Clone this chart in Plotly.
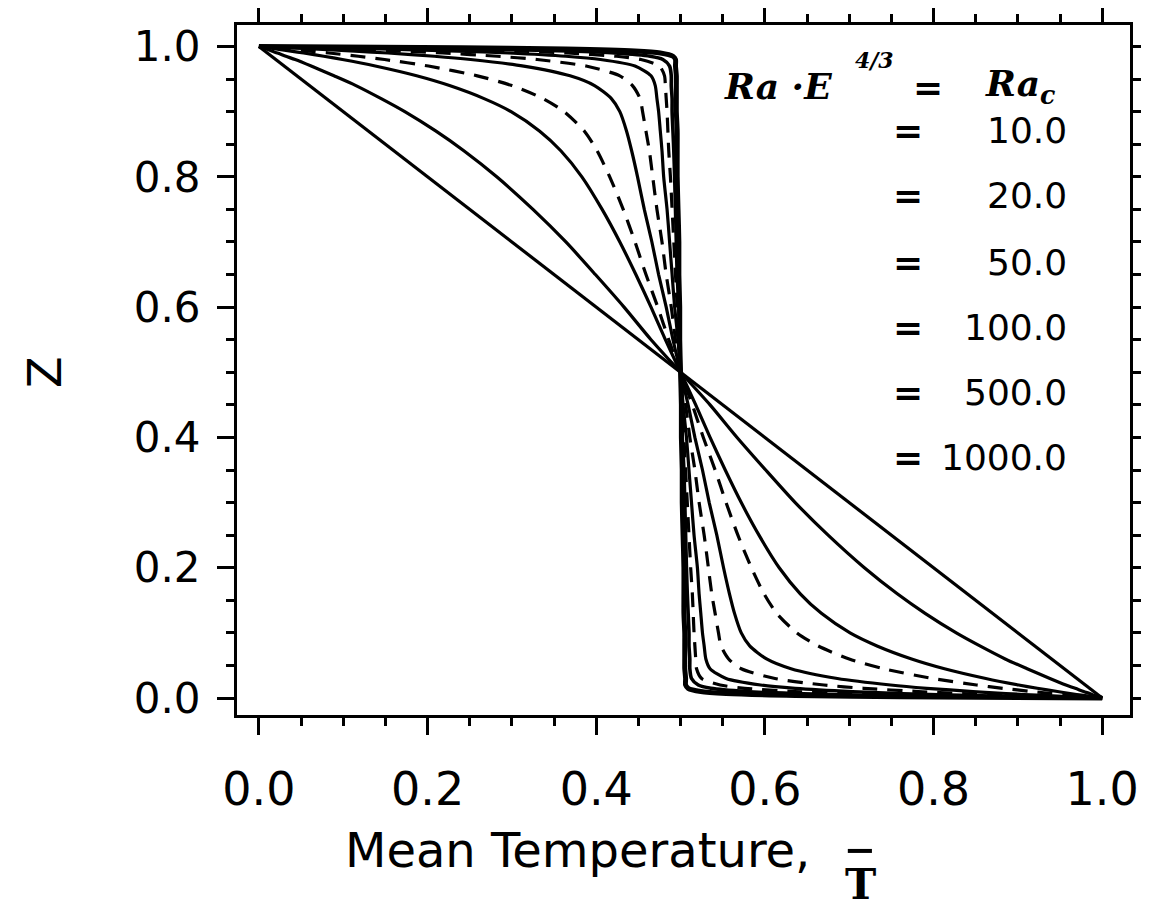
import plotly.graph_objects as go

# ---------------- data ----------------
# vertical coordinate Z (shared by all curved profiles)
z_grid = [0, 0.002, 0.004, 0.007, 0.01, 0.015, 0.02, 0.03, 0.045, 0.06, 0.08, 0.1,
          0.13, 0.16, 0.2, 0.25, 0.3, 0.35, 0.4, 0.45, 0.5, 0.55, 0.6, 0.65, 0.7,
          0.75, 0.8, 0.84, 0.87, 0.9, 0.92, 0.94, 0.955, 0.97, 0.98, 0.985, 0.99,
          0.993, 0.996, 0.998, 1.0]

# critical (conductive) profile
linear_z = [0.0, 1.0]
linear_T = [1.0, 0.0]

T_ra10 = [1.0, 0.996, 0.991, 0.985, 0.978, 0.968, 0.957, 0.938, 0.911, 0.885, 0.855, 0.827,
          0.790, 0.757, 0.718, 0.675, 0.636, 0.601, 0.567, 0.535, 0.5, 0.465, 0.433, 0.399,
          0.364, 0.325, 0.282, 0.243, 0.210, 0.173, 0.145, 0.115, 0.089, 0.062, 0.043, 0.032,
          0.022, 0.015, 0.009, 0.004, 0.0]
T_ra20 = [1.0, 0.989, 0.978, 0.962, 0.947, 0.923, 0.901, 0.862, 0.813, 0.774, 0.733, 0.701,
          0.667, 0.642, 0.617, 0.593, 0.572, 0.553, 0.535, 0.518, 0.5, 0.482, 0.465, 0.447,
          0.428, 0.407, 0.383, 0.358, 0.333, 0.299, 0.267, 0.226, 0.187, 0.138, 0.099, 0.077,
          0.053, 0.038, 0.022, 0.011, 0.0]
T_dash1 = [1.0, 0.982, 0.964, 0.940, 0.917, 0.882, 0.851, 0.799, 0.741, 0.700, 0.663, 0.638,
           0.614, 0.599, 0.584, 0.568, 0.554, 0.541, 0.527, 0.514, 0.5, 0.486, 0.473, 0.459,
           0.446, 0.432, 0.416, 0.401, 0.386, 0.362, 0.337, 0.300, 0.259, 0.201, 0.149, 0.118,
           0.083, 0.060, 0.036, 0.018, 0.0]
T_ra50 = [1.0, 0.964, 0.930, 0.886, 0.847, 0.792, 0.749, 0.686, 0.631, 0.602, 0.582, 0.572,
          0.564, 0.558, 0.551, 0.543, 0.534, 0.526, 0.517, 0.509, 0.5, 0.491, 0.483, 0.474,
          0.466, 0.457, 0.449, 0.442, 0.436, 0.428, 0.418, 0.398, 0.369, 0.314, 0.251, 0.208,
          0.153, 0.114, 0.070, 0.036, 0.0]
T_dash2 = [1.0, 0.944, 0.895, 0.833, 0.782, 0.717, 0.670, 0.612, 0.572, 0.557, 0.548, 0.545,
           0.541, 0.537, 0.533, 0.528, 0.522, 0.517, 0.511, 0.506, 0.5, 0.494, 0.489, 0.483,
           0.478, 0.472, 0.467, 0.463, 0.459, 0.455, 0.452, 0.443, 0.428, 0.388, 0.330, 0.283,
           0.218, 0.167, 0.105, 0.056, 0.0]
T_ra100 = [1.0, 0.915, 0.846, 0.764, 0.704, 0.636, 0.595, 0.554, 0.535, 0.530, 0.528, 0.526,
           0.524, 0.522, 0.520, 0.516, 0.513, 0.510, 0.507, 0.503, 0.5, 0.497, 0.493, 0.490,
           0.487, 0.484, 0.480, 0.478, 0.476, 0.474, 0.472, 0.470, 0.465, 0.446, 0.405, 0.364,
           0.296, 0.236, 0.154, 0.085, 0.0]
T_dash3 = [1.0, 0.881, 0.791, 0.696, 0.635, 0.576, 0.547, 0.525, 0.519, 0.518, 0.517, 0.516,
           0.515, 0.514, 0.512, 0.510, 0.508, 0.506, 0.504, 0.502, 0.5, 0.498, 0.496, 0.494,
           0.492, 0.490, 0.488, 0.486, 0.485, 0.484, 0.483, 0.482, 0.481, 0.475, 0.453, 0.424,
           0.365, 0.304, 0.209, 0.119, 0.0]
T_ra500 = [1.0, 0.839, 0.731, 0.633, 0.578, 0.536, 0.521, 0.513, 0.511, 0.511, 0.510, 0.510,
           0.509, 0.508, 0.507, 0.506, 0.505, 0.504, 0.502, 0.501, 0.5, 0.499, 0.498, 0.496,
           0.495, 0.494, 0.493, 0.492, 0.491, 0.490, 0.490, 0.489, 0.489, 0.487, 0.479, 0.464,
           0.422, 0.367, 0.269, 0.161, 0.0]
T_ra1000 = [1.0, 0.760, 0.636, 0.554, 0.524, 0.509, 0.506, 0.506, 0.505, 0.505, 0.505, 0.505,
            0.504, 0.504, 0.504, 0.503, 0.502, 0.502, 0.501, 0.501, 0.5, 0.499, 0.499, 0.498,
            0.498, 0.497, 0.496, 0.496, 0.496, 0.495, 0.495, 0.495, 0.495, 0.494, 0.494, 0.491,
            0.476, 0.446, 0.364, 0.240, 0.0]

legend_labels = ["10.0", "20.0", "50.0", "100.0", "500.0", "1000.0"]
tick_vals = [0.0, 0.2, 0.4, 0.6, 0.8, 1.0]
tick_text = ["0.0", "0.2", "0.4", "0.6", "0.8", "1.0"]

# ---------------- figure ----------------
fig = go.Figure()

curves = [
    (linear_z, linear_T, "solid", 3.2),
    (z_grid, T_ra10, "solid", 3.2),
    (z_grid, T_ra20, "solid", 3.2),
    (z_grid, T_dash1, "15px,10px", 3.2),
    (z_grid, T_ra50, "solid", 3.2),
    (z_grid, T_dash2, "15px,10px", 3.2),
    (z_grid, T_ra100, "solid", 3.2),
    (z_grid, T_dash3, "15px,10px", 3.2),
    (z_grid, T_ra500, "solid", 3.6),
    (z_grid, T_ra1000, "solid", 5.0),
]
for zz, tt, dash, w in curves:
    fig.add_trace(go.Scatter(x=tt, y=zz, mode="lines",
                             line=dict(color="black", width=w, dash=dash,
                                       shape="spline", smoothing=0.7),
                             showlegend=False, hoverinfo="skip"))

def axis_style(font_size, standoff):
    return dict(
        automargin=False,
        showgrid=False, zeroline=False, showline=True, linecolor="black", linewidth=3,
        mirror="ticks", ticks="outside", ticklen=17, tickwidth=2.5, tickcolor="black",
        tickvals=tick_vals, ticktext=tick_text, ticklabelstandoff=standoff,
        tickfont=dict(family="DejaVu Sans", size=font_size, color="black"),
        minor=dict(dtick=0.05, tick0=0, ticks="outside", ticklen=8, tickwidth=2.5,
                   tickcolor="black", showgrid=False),
        range=[-0.026, 1.033],
    )

fig.update_layout(
    template="none",
    width=1149, height=907,
    margin=dict(l=229, r=27, t=17, b=200, autoexpand=False),
    paper_bgcolor="white", plot_bgcolor="white",
    xaxis=axis_style(46, 15),
    yaxis=axis_style(42, 8),
)

ann = []
def add_text(text, x, y, font, xanchor="center", yanchor="middle", angle=0):
    ann.append(dict(text=text, x=x, y=y, xref="paper", yref="paper", xanchor=xanchor,
                    yanchor=yanchor, textangle=angle, showarrow=False, font=font))

sans48 = dict(family="DejaVu Sans", size=48, color="black")
sans36 = dict(family="DejaVu Sans", size=36, color="black")
serif_bi = dict(family="DejaVu Serif", size=36, color="black")

# axis titles
add_text("Mean Temperature,", 0.381, -0.196, sans48)
add_text("<b>T</b>", 0.6977, -0.245, dict(family="DejaVu Serif", size=42, color="black"))
add_text("Z", -0.215, 0.497, dict(family="DejaVu Sans", size=46, color="black"), angle=-90)

# legend header
add_text("<b><i>Ra ·E</i></b>", 0.543, 0.912, serif_bi, xanchor="left")
add_text("<b><i>4/3</i></b>", 0.690, 0.950, dict(family="DejaVu Serif", size=22, color="black"),
         xanchor="left")
add_text("<b>=</b>", 0.774, 0.909, sans36)
add_text("<b><i>Ra</i></b><sub><b><i>c</i></b></sub>", 0.835, 0.912, serif_bi, xanchor="left")

row_y = [0.8464, 0.7522, 0.6565, 0.5623, 0.4681, 0.3739]
for lab, yy in zip(legend_labels, row_y):
    add_text("<b>=</b>", 0.7514, yy, sans36)
    add_text(lab, 0.932, yy, sans36, xanchor="right")

fig.update_layout(annotations=ann)

# overbar of the T in the x title
fig.add_shape(type="line", xref="paper", yref="paper", x0=0.684, x1=0.711,
              y0=-0.197, y1=-0.197, line=dict(color="black", width=4))

fig.write_html("out.html")
